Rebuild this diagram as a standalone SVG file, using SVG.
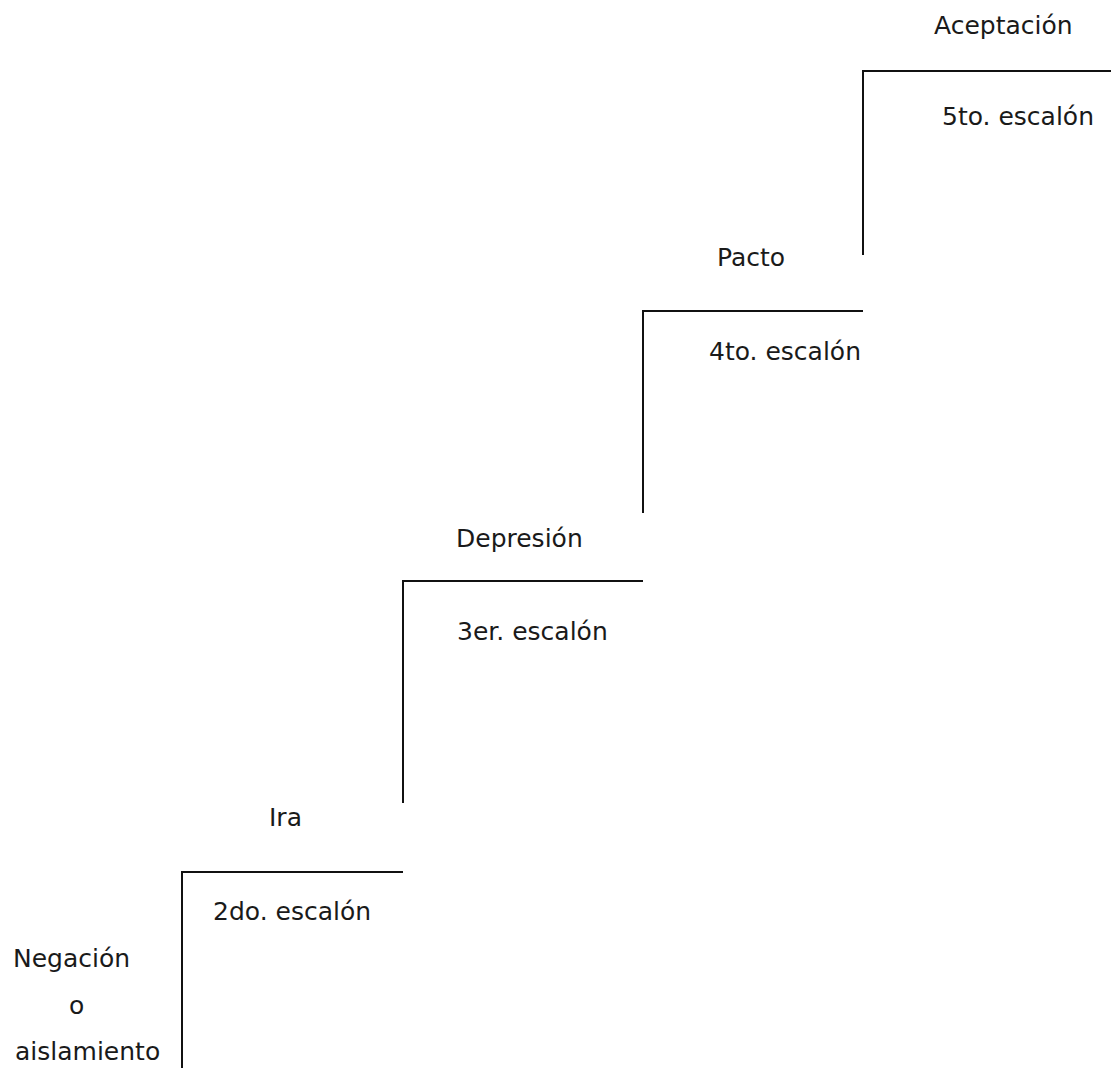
<svg xmlns="http://www.w3.org/2000/svg" width="1111" height="1068" viewBox="0 0 1111 1068">
<style>
text { font-family: "DejaVu Sans", Verdana, sans-serif; font-size: 25px; fill: #1a1a1a; }
.stair { fill: none; stroke: #111; stroke-width: 2; }
</style>
<rect width="1111" height="1068" fill="#fff"/>
<g id="connectors">
<polyline class="stair" points="182,1068 182,872 403,872"/>
<polyline class="stair" points="403,803 403,581 643,581"/>
<polyline class="stair" points="643,513 643,311 863,311"/>
<polyline class="stair" points="863,255 863,71 1111,71"/>
</g>
<g id="negacion">
<text x="13" y="967">Negación</text>
<text x="69" y="1014">o</text>
<text x="15" y="1060">aislamiento</text>
</g>
<g id="escalon2"><text x="213" y="920">2do. escalón</text></g>
<g id="ira"><text x="269" y="826">Ira</text></g>
<g id="escalon3"><text x="457" y="640">3er. escalón</text></g>
<g id="depresion"><text x="456" y="547">Depresión</text></g>
<g id="escalon4"><text x="709" y="360">4to. escalón</text></g>
<g id="pacto"><text x="717" y="266">Pacto</text></g>
<g id="escalon5"><text x="942" y="125">5to. escalón</text></g>
<g id="aceptacion"><text x="934" y="34">Aceptación</text></g>
</svg>
